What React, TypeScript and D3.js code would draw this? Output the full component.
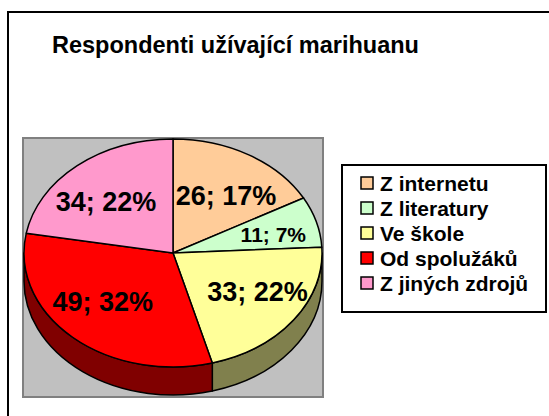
import * as d3 from "d3";
import { useEffect, useRef } from "react";

const categories = ["Z internetu", "Z literatury", "Ve škole", "Od spolužáků", "Z jiných zdrojů"];
const values = [26, 11, 33, 49, 34];
const percentLabels = ["17%", "7%", "22%", "32%", "22%"];
const colors = ["#FFCC99", "#CCFFCC", "#FFFF99", "#FF0000", "#FF99CC"];
const title = "Respondenti užívající marihuanu";

interface Slice {
  name: string;
  value: number;
  pct: string;
}

export default function App() {
  const svgRef = useRef<SVGSVGElement>(null);

  const width = 549;
  const height = 416;

  useEffect(() => {
    const svg = d3.select(svgRef.current);
    svg.selectAll("*").remove();

    const font = "Arial, 'Liberation Sans', sans-serif";
    const data: Slice[] = categories.map((name, i) => ({ name, value: values[i], pct: percentLabels[i] }));

    const color = d3.scaleOrdinal<string, string>().domain(categories).range(colors);
    // side walls are the face colour at half brightness
    const sideColor = (name: string) => {
      const c = d3.rgb(color(name));
      return d3.rgb(c.r * 0.5, c.g * 0.5, c.b * 0.5).formatHex();
    };

    // outer frame (cut off at right and bottom)
    svg.append("rect")
      .attr("x", 8).attr("y", 12)
      .attr("width", 560).attr("height", 420)
      .attr("fill", "#fff").attr("stroke", "#000").attr("stroke-width", 2);

    svg.append("text")
      .attr("x", 52).attr("y", 53)
      .attr("font-family", font).attr("font-weight", "bold").attr("font-size", 23.5)
      .attr("fill", "#000")
      .text(title);

    // plot area
    svg.append("rect")
      .attr("x", 23).attr("y", 138)
      .attr("width", 300).attr("height", 259)
      .attr("fill", "#C0C0C0").attr("stroke", "#808080").attr("stroke-width", 2);

    const cx = 173, cy = 253, rx = 149, ry = 114, depth = 28;
    const pt = (a: number, dy = 0): [number, number] => [cx + rx * Math.sin(a), cy - ry * Math.cos(a) + dy];

    const pie = d3.pie<Slice>().value(d => d.value).sort(null).startAngle(0).endAngle(2 * Math.PI);
    const arcs = pie(data);

    const g = svg.append("g");

    // side walls (front half only)
    arcs.forEach(a => {
      const b0 = Math.max(a.startAngle, Math.PI / 2);
      const b1 = Math.min(a.endAngle, (3 * Math.PI) / 2);
      if (b1 <= b0) return;
      const p0 = pt(b0), p1 = pt(b1), q1 = pt(b1, depth), q0 = pt(b0, depth);
      const large = b1 - b0 > Math.PI ? 1 : 0;
      const path = `M${p0[0]},${p0[1]} A${rx},${ry} 0 ${large} 1 ${p1[0]},${p1[1]} L${q1[0]},${q1[1]} A${rx},${ry} 0 ${large} 0 ${q0[0]},${q0[1]} Z`;
      g.append("path")
        .attr("d", path)
        .attr("fill", sideColor(a.data.name))
        .attr("stroke", "#000").attr("stroke-width", 1.5).attr("stroke-linejoin", "round");
    });

    // top faces
    arcs.forEach(a => {
      const p0 = pt(a.startAngle), p1 = pt(a.endAngle);
      const large = a.endAngle - a.startAngle > Math.PI ? 1 : 0;
      const path = `M${cx},${cy} L${p0[0]},${p0[1]} A${rx},${ry} 0 ${large} 1 ${p1[0]},${p1[1]} Z`;
      g.append("path")
        .attr("d", path)
        .attr("fill", color(a.data.name))
        .attr("stroke", "#000").attr("stroke-width", 1.5).attr("stroke-linejoin", "round");
    });

    // data labels
    arcs.forEach(a => {
      const mid = (a.startAngle + a.endAngle) / 2;
      const small = a.endAngle - a.startAngle < 0.1 * 2 * Math.PI;
      const x = cx + rx * 0.7 * Math.sin(mid);
      const y = cy - ry * 0.58 * Math.cos(mid);
      g.append("text")
        .attr("x", x).attr("y", y)
        .attr("text-anchor", "middle")
        .attr("dominant-baseline", "central")
        .attr("font-family", font).attr("font-weight", "bold")
        .attr("font-size", small ? 21 : 27)
        .attr("fill", "#000")
        .text(`${a.data.value}; ${a.data.pct}`);
    });

    // legend
    const legend = svg.append("g");
    legend.append("rect")
      .attr("x", 342).attr("y", 165)
      .attr("width", 204).attr("height", 147)
      .attr("fill", "#fff").attr("stroke", "#000").attr("stroke-width", 2);

    const row = d3.scalePoint<string>().domain(categories).range([183, 283]);
    categories.forEach(name => {
      const y = row(name)!;
      legend.append("rect")
        .attr("x", 361).attr("y", y - 6)
        .attr("width", 12).attr("height", 12)
        .attr("fill", color(name)).attr("stroke", "#000").attr("stroke-width", 1.5);
      legend.append("text")
        .attr("x", 380).attr("y", y)
        .attr("dominant-baseline", "central")
        .attr("font-family", font).attr("font-weight", "bold").attr("font-size", 21)
        .attr("fill", "#000")
        .text(name);
    });
  }, []);

  return (
    <svg
      ref={svgRef}
      width={width}
      height={height}
      viewBox={`0 0 ${width} ${height}`}
      style={{ position: "absolute", left: 0, top: 0, display: "block", background: "#fff" }}
    />
  );
}
